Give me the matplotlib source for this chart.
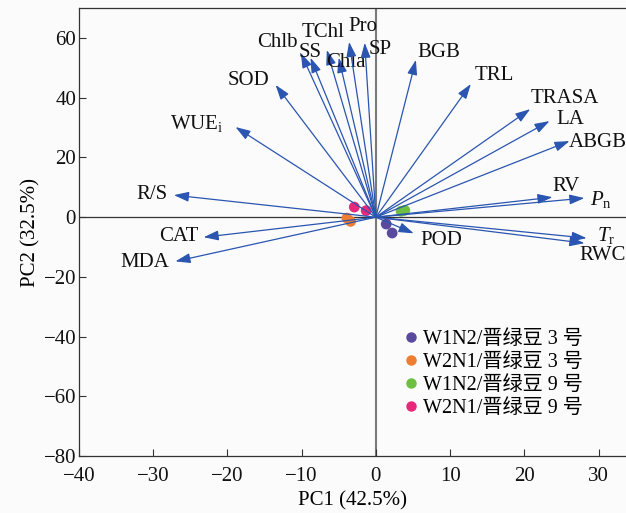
import matplotlib
matplotlib.use("Agg")
import matplotlib.pyplot as plt
from matplotlib.lines import Line2D

plt.rcParams['font.family'] = ['Liberation Serif', 'Noto Sans CJK SC']
plt.rcParams['mathtext.fontset'] = 'custom'
plt.rcParams['mathtext.rm'] = 'Liberation Serif'
plt.rcParams['mathtext.it'] = 'Liberation Serif:italic'

# loadings (arrow tips)
variables = ['Chlb', 'SS', 'TChl', 'Chla', 'Pro', 'SP', 'BGB', 'SOD', 'TRL',
             'TRASA', 'LA', 'ABGB', 'RV', 'Pn', 'Tr', 'RWC', 'WUEi', 'R/S',
             'CAT', 'MDA', 'POD']
load_x = [-10.1, -8.8, -6.6, -5.0, -3.6, -1.5, 5.4, -13.5, 12.8,
          20.8, 23.4, 26.1, 23.8, 28.1, 28.4, 28.1, -18.9, -27.2,
          -23.2, -27.0, 5.1]
load_y = [55.0, 53.4, 56.0, 53.4, 58.7, 58.4, 52.7, 44.3, 44.6,
          36.2, 32.2, 25.5, 6.7, 6.4, -7.0, -8.7, 30.2, 7.4,
          -6.7, -14.8, -5.4]
labels = ['Chlb', 'SS', 'TChl', 'Chla', 'Pro', 'SP', 'BGB', 'SOD', 'TRL',
          'TRASA', 'LA', 'ABGB', 'RV', r'$P_{\mathrm{n}}$', r'$T_{\mathrm{r}}$',
          'RWC', r'WUE$_{\mathrm{i}}$', 'R/S', 'CAT', 'MDA', 'POD']

# sample scores
groups = ['W1N2/晋绿豆 3 号', 'W2N1/晋绿豆 3 号', 'W1N2/晋绿豆 9 号', 'W2N1/晋绿豆 9 号']
score_x = [[1.4, 2.2], [-3.9, -3.4], [3.4, 3.9], [-2.9, -1.3]]
score_y = [[-2.3, -5.3], [-0.3, -1.4], [2.0, 2.3], [3.4, 2.2]]
colors = ['#5a4a9e', '#ee7d31', '#6cbf41', '#e8287a']

# label placement (data coords, text anchor)
label_pos = {
    'Chlb': (-13.3, 58.6, 'center'), 'SS': (-8.8, 55.3, 'center'),
    'TChl': (-7.1, 62.0, 'center'), 'Chla': (-4.0, 51.9, 'center'),
    'Pro': (-1.8, 64.0, 'center'), 'SP': (0.6, 56.3, 'center'),
    'BGB': (8.5, 55.3, 'center'), 'SOD': (-17.2, 45.9, 'center'),
    'TRL': (15.9, 47.6, 'center'), 'TRASA': (25.5, 39.9, 'center'),
    'LA': (26.2, 32.8, 'center'), 'ABGB': (29.9, 25.1, 'center'),
    'RV': (25.6, 10.4, 'center'), 'Pn': (28.9, 6.0, 'left'),
    'Tr': (29.8, -6.0, 'left'), 'RWC': (30.5, -12.7, 'center'),
    'WUEi': (-24.1, 31.5, 'center'), 'R/S': (-30.1, 7.7, 'center'),
    'CAT': (-26.5, -6.4, 'center'), 'MDA': (-31.1, -15.1, 'center'),
    'POD': (8.8, -7.7, 'center'),
}

fig = plt.figure(figsize=(6.26, 5.13), dpi=100, facecolor='#fbfbfb')
ax = fig.add_axes([0.126, 0.111, 0.874, 0.873])
ax.set_facecolor('#fbfbfb')

ax.axvline(0, color='#7a7a7a', lw=1.5, zorder=1)
ax.axhline(0, color='#333333', lw=0.9, zorder=1)

arrow_col = '#2a55b0'
for v, lx, ly, lab in zip(variables, load_x, load_y, labels):
    ax.annotate('', xy=(lx, ly), xytext=(0, 0),
                arrowprops=dict(arrowstyle='-|>,head_length=0.9,head_width=0.3',
                                color=arrow_col, lw=0.9, shrinkA=0, shrinkB=0),
                zorder=3)
    tx, ty, ha = label_pos[v]
    ax.text(tx, ty, lab, fontsize=15, ha=ha, va='center', color='#111111')

for g, xs, ys, c in zip(groups, score_x, score_y, colors):
    ax.scatter(xs, ys, s=60, color=c, edgecolors='none', zorder=2)

handles = [Line2D([], [], marker='o', ls='', color=c, markersize=6.5) for c in colors]
ax.legend(handles, groups, loc='upper left', bbox_to_anchor=(0.57, 0.305),
          frameon=False, fontsize=14.5, handletextpad=0.1, labelspacing=0.2,
          handlelength=1.0, borderpad=0)

ax.set_xlim(-40, 33.7)
ax.set_ylim(-80, 70)
ax.set_xticks(range(-40, 31, 10))
ax.set_yticks(range(-80, 61, 20))
ax.set_xticklabels([str(t).replace('-', '\u2212') for t in range(-40, 31, 10)])
ax.set_yticklabels([str(t).replace('-', '\u2212') for t in range(-80, 61, 20)])
ax.tick_params(direction='in', length=5, width=0.8, labelsize=15, colors='#333333',
               labelcolor='#111111')
ax.tick_params(axis='y', pad=2)
ax.tick_params(axis='x', pad=8)
for s in ['left', 'bottom', 'top']:
    ax.spines[s].set_color('#333333')
    ax.spines[s].set_linewidth(0.9)
ax.spines['right'].set_visible(False)
ax.set_xlabel('PC1 (42.5%)', fontsize=15, labelpad=4)
ax.set_ylabel('PC2 (32.5%)', fontsize=15, labelpad=2)

fig.savefig('out.png', dpi=100, facecolor=fig.get_facecolor())
